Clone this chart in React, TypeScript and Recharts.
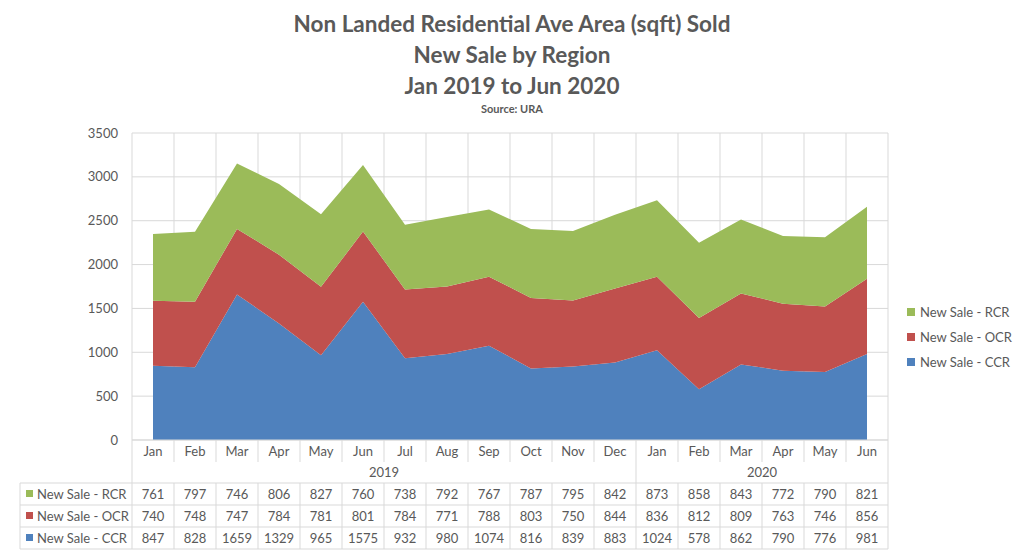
import { AreaChart, Area, XAxis, YAxis, CartesianGrid } from 'recharts';

const months = ['Jan', 'Feb', 'Mar', 'Apr', 'May', 'Jun', 'Jul', 'Aug', 'Sep', 'Oct', 'Nov', 'Dec', 'Jan', 'Feb', 'Mar', 'Apr', 'May', 'Jun'];
const years = [
    { label: '2019', count: 12 },
    { label: '2020', count: 6 },
];
const rcr = [761, 797, 746, 806, 827, 760, 738, 792, 767, 787, 795, 842, 873, 858, 843, 772, 790, 821];
const ocr = [740, 748, 747, 784, 781, 801, 784, 771, 788, 803, 750, 844, 836, 812, 809, 763, 746, 856];
const ccr = [847, 828, 1659, 1329, 965, 1575, 932, 980, 1074, 816, 839, 883, 1024, 578, 862, 790, 776, 981];
const yTicks = [0, 500, 1000, 1500, 2000, 2500, 3000, 3500];

const GREEN = '#9BBB59';
const RED = '#C0504D';
const BLUE = '#4F81BD';
const TEXT = '#595959';
const GRID = '#D9D9D9';
const FONT = "Lato, 'Open Sans', sans-serif";

// table rows top to bottom, like the legend
const rows = [
    { name: 'New Sale - RCR', color: GREEN, values: rcr },
    { name: 'New Sale - OCR', color: RED, values: ocr },
    { name: 'New Sale - CCR', color: BLUE, values: ccr },
];

const data = months.map((m, i) => ({ idx: i, month: m, ccr: ccr[i], ocr: ocr[i], rcr: rcr[i] }));

const W = 1024;
const H = 556;
const PLOT_LEFT = 132;
const PLOT_RIGHT = 888;
const PLOT_TOP = 133;
const PLOT_BOTTOM = 440;
const COL_W = (PLOT_RIGHT - PLOT_LEFT) / months.length;
const Y_AXIS_W = 60;
const X_AXIS_H = 112;
const ROW_H = 22;
const LEG_COL_W = 112;

const yearStarts: Record<number, { label: string; count: number }> = {};
let acc = 0;
years.forEach(y => { yearStarts[acc] = y; acc += y.count; });
const yearEnds = new Set<number>();
acc = 0;
years.forEach(y => { acc += y.count; yearEnds.add(acc - 1); });

const TableTick = (props: any) => {
    const { x, y, index } = props;
    const i = index as number;
    const xl = x - COL_W / 2;
    const xr = x + COL_W / 2;
    const dataTop = y + ROW_H * 2 - 1;
    const bottom = dataTop + ROW_H * 3;
    const lineYs = [0, 1, 2, 3].map(k => dataTop + k * ROW_H);
    const yg = yearStarts[i];
    const fullRight = yearEnds.has(i);
    return (
        <g fontFamily={FONT} fontSize={13} fill={TEXT}>
            <text x={x} y={y + 11} textAnchor="middle" dominantBaseline="central">{months[i]}</text>
            {yg && (
                <text x={xl + (yg.count * COL_W) / 2} y={y + 32} textAnchor="middle" dominantBaseline="central">{yg.label}</text>
            )}
            {rows.map((r, k) => (
                <text key={r.name} x={x} y={dataTop + k * ROW_H + 11} textAnchor="middle" dominantBaseline="central">{r.values[i]}</text>
            ))}
            {lineYs.map(ly => (
                <line key={ly} x1={xl} x2={xr} y1={ly} y2={ly} stroke={GRID} />
            ))}
            {fullRight ? (
                <line x1={xr} x2={xr} y1={y} y2={bottom} stroke={GRID} />
            ) : (
                <>
                    <line x1={xr} x2={xr} y1={y} y2={y + ROW_H} stroke={GRID} />
                    <line x1={xr} x2={xr} y1={dataTop} y2={bottom} stroke={GRID} />
                </>
            )}
            {i === 0 && (
                <>
                    <line x1={xl} x2={xl} y1={y} y2={bottom} stroke={GRID} />
                    <line x1={xl - LEG_COL_W} x2={xl - LEG_COL_W} y1={dataTop} y2={bottom} stroke={GRID} />
                    {lineYs.map(ly => (
                        <line key={'l' + ly} x1={xl - LEG_COL_W} x2={xl} y1={ly} y2={ly} stroke={GRID} />
                    ))}
                    {rows.map((r, k) => (
                        <g key={'lg' + r.name}>
                            <rect x={xl - LEG_COL_W + 6} y={dataTop + k * ROW_H + 7} width={7} height={7} fill={r.color} />
                            <text x={xl - LEG_COL_W + 17} y={dataTop + k * ROW_H + 11} dominantBaseline="central">{r.name}</text>
                        </g>
                    ))}
                </>
            )}
        </g>
    );
};

export default function App() {
    return (
        <div style={{ position: 'absolute', left: 0, top: 0, width: W, height: H, background: '#fff', fontFamily: FONT }}>
            <div style={{ position: 'absolute', left: 0, top: 8, width: W, textAlign: 'center', color: TEXT, fontWeight: 700 }}>
                <div style={{ fontSize: 22.5, lineHeight: '31px' }}>Non Landed Residential Ave Area (sqft) Sold</div>
                <div style={{ fontSize: 22.5, lineHeight: '31px' }}>New Sale by Region</div>
                <div style={{ fontSize: 22.5, lineHeight: '31px' }}>Jan 2019 to Jun 2020</div>
                <div style={{ fontSize: 11, lineHeight: '16px' }}>Source: URA</div>
            </div>
            <div style={{ position: 'absolute', left: 0, top: 0 }}>
                <AreaChart
                    width={W}
                    height={H}
                    data={data}
                    margin={{ top: PLOT_TOP, right: W - PLOT_RIGHT, left: PLOT_LEFT - Y_AXIS_W, bottom: H - PLOT_BOTTOM - X_AXIS_H }}
                >
                    <CartesianGrid
                        stroke={GRID}
                        verticalCoordinatesGenerator={({ offset }: any) =>
                            months.map((_, k) => offset.left + k * COL_W).concat([offset.left + offset.width])
                        }
                    />
                    <XAxis
                        dataKey="idx"
                        type="category"
                        interval={0}
                        height={X_AXIS_H}
                        padding={{ left: COL_W / 2, right: COL_W / 2 }}
                        axisLine={{ stroke: GRID }}
                        tickLine={false}
                        tickSize={0}
                        tickMargin={0}
                        tick={<TableTick />}
                    />
                    <YAxis
                        width={Y_AXIS_W}
                        domain={[0, 3500]}
                        ticks={yTicks}
                        axisLine={false}
                        tickLine={false}
                        tickSize={0}
                        tickMargin={14}
                        tick={{ fill: TEXT, fontSize: 13, fontFamily: FONT }}
                    />
                    <Area dataKey="ccr" name="New Sale - CCR" stackId="a" type="linear" stroke="none" fill={BLUE} fillOpacity={1} isAnimationActive={false} />
                    <Area dataKey="ocr" name="New Sale - OCR" stackId="a" type="linear" stroke="none" fill={RED} fillOpacity={1} isAnimationActive={false} />
                    <Area dataKey="rcr" name="New Sale - RCR" stackId="a" type="linear" stroke="none" fill={GREEN} fillOpacity={1} isAnimationActive={false} />
                </AreaChart>
            </div>
            <div style={{ position: 'absolute', left: 907, top: 299, color: TEXT, fontSize: 13 }}>
                {rows.map(r => (
                    <div key={r.name} style={{ display: 'flex', alignItems: 'center', height: 25 }}>
                        <span style={{ display: 'inline-block', width: 8, height: 8, background: r.color, marginRight: 5 }} />
                        <span>{r.name}</span>
                    </div>
                ))}
            </div>
        </div>
    );
}
